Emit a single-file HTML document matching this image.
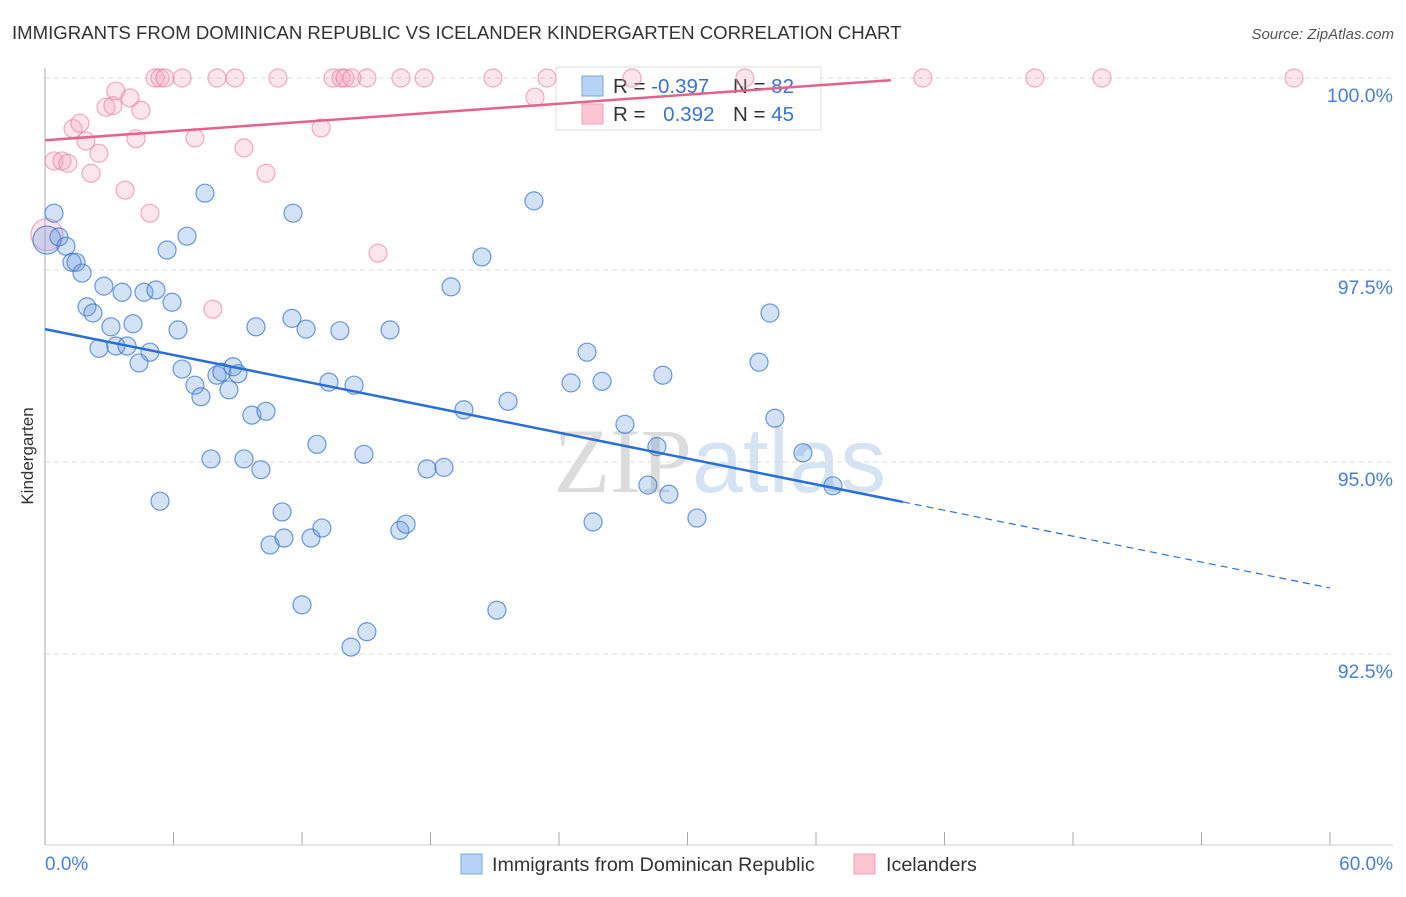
<!DOCTYPE html>
<html><head><meta charset="utf-8">
<style>
body{margin:0;background:#fff;font-family:"Liberation Sans",sans-serif;}
svg text{font-family:"Liberation Sans",sans-serif;}
</style></head>
<body>
<svg id="chart" width="1406" height="892" xmlns="http://www.w3.org/2000/svg">
<text x="12" y="39" font-size="18.6" fill="#333">IMMIGRANTS FROM DOMINICAN REPUBLIC VS ICELANDER KINDERGARTEN CORRELATION CHART</text>
<text x="1394" y="39" font-size="15" fill="#555" text-anchor="end" font-style="italic">Source: ZipAtlas.com</text>
<text x="720" y="492" font-size="92" fill="#e6e6e6" text-anchor="middle"><tspan font-family="Liberation Serif" fill="#dcdcdc">ZIP</tspan><tspan fill="#d5e3f3">atlas</tspan></text>
<g id="grid"></g>
<g id="axes"></g>
<g>
<rect x="556" y="67" width="265" height="63" fill="#fff" fill-opacity="0.85" stroke="#ddd"/>
<rect x="582" y="76" width="21" height="20" fill="#b8d2f5" stroke="#7aa5e0"/>
<rect x="582" y="104" width="21" height="20" fill="#fcc5d4" stroke="#f0a0b8"/>
<text x="613" y="93" font-size="20.5" fill="#333">R = <tspan fill="#3a73d0">-0.397</tspan></text>
<text x="733" y="93" font-size="20.5" fill="#333">N = <tspan fill="#3a73d0">82</tspan></text>
<text x="613" y="121" font-size="20.5" fill="#333">R = <tspan fill="#3a73d0" dx="12">0.392</tspan></text>
<text x="733" y="121" font-size="20.5" fill="#333">N = <tspan fill="#3a73d0">45</tspan></text>
</g>
<g id="marks"></g>
<text transform="translate(33,456) rotate(-90)" font-size="17" fill="#333" text-anchor="middle">Kindergarten</text>
<text x="45" y="870" font-size="19" fill="#4a7fd4">0.0%</text>
<text x="1393" y="870" font-size="19" fill="#4a7fd4" text-anchor="end">60.0%</text>
<g>
<rect x="461" y="854" width="21" height="20" fill="#b8d2f5" stroke="#7aa5e0"/>
<text x="492" y="871" font-size="19.7" fill="#333">Immigrants from Dominican Republic</text>
<rect x="854" y="854" width="21" height="20" fill="#fcc5d4" stroke="#f0a0b8"/>
<text x="886" y="871" font-size="19.7" fill="#333">Icelanders</text>
</g>
</svg>
<script>
const blueX=[0.42,0.09,0.65,0.98,1.26,1.45,1.73,1.96,2.24,2.75,3.08,3.60,4.11,2.52,3.31,3.83,4.90,4.39,4.62,5.18,5.93,6.21,5.70,6.63,7.47,6.40,7.00,7.28,8.03,8.26,8.59,8.78,9.01,7.75,5.37,9.29,9.66,10.32,10.08,9.85,11.58,11.53,12.19,13.77,13.26,14.43,12.70,14.89,16.11,11.07,10.51,11.16,12.42,12.93,12.00,14.29,15.03,16.57,16.86,17.84,18.63,18.96,19.56,20.40,21.62,22.83,24.56,25.31,26.01,25.59,27.08,28.57,28.15,29.13,28.85,30.44,21.10,33.34,33.85,34.08,35.39,36.79];
const blueY=[98.24,97.89,97.93,97.81,97.60,97.60,97.46,97.02,96.94,97.29,96.76,97.21,96.80,96.48,96.51,96.51,96.43,96.29,97.21,97.24,97.08,96.72,97.76,97.94,98.50,96.21,96.00,95.85,96.13,96.17,95.94,96.24,96.15,95.04,94.49,95.04,95.61,95.66,94.90,96.76,98.24,96.87,96.73,96.71,96.04,96.00,95.23,95.10,96.72,94.35,93.92,94.01,94.01,94.14,93.14,92.59,92.79,94.11,94.19,94.91,94.93,97.28,95.68,97.67,95.79,98.40,96.03,96.43,96.05,94.22,95.49,95.20,94.70,94.58,96.13,94.27,93.07,96.30,96.94,95.57,95.12,94.69];
const pinkX=[5.14,5.37,5.60,6.40,8.03,8.87,10.88,13.45,13.82,14.01,14.33,15.03,16.62,17.70,20.92,23.44,27.41,32.68,40.99,46.22,49.35,58.32,0.42,0.79,1.07,1.31,1.63,1.91,2.15,2.52,2.85,3.17,3.31,3.74,3.97,4.25,4.48,4.90,7.00,7.84,9.29,10.32,12.89,15.55,22.88,0.09];
const pinkY=[100,100,100,100,100,100,100,100,100,100,100,100,100,100,100,100,100,100,100,100,100,100,98.92,98.92,98.89,99.34,99.41,99.18,98.76,99.02,99.62,99.64,99.83,98.54,99.74,99.21,99.58,98.24,99.22,96.99,99.09,98.76,99.35,97.72,99.75,97.96];
const yTicks=[100,97.5,95,92.5];
const yTickLabels=["100.0%","97.5%","95.0%","92.5%"];
const xTicks=[0,6,12,18,24,30,36,42,48,54,60];
const blueTrend=[96.73,93.36]; // y at x=0 and x=60
const pinkTrend=[99.19,0.0198]; // intercept, slope

const NS="http://www.w3.org/2000/svg";
function sx(v){return 45+v/60*1285;}
function sy(v){return 78+(100-v)/2.5*192;}
function mk(tag,attrs,parent){const e=document.createElementNS(NS,tag);for(const k in attrs)e.setAttribute(k,attrs[k]);parent.appendChild(e);return e;}
const grid=document.getElementById('grid'),axes=document.getElementById('axes'),marks=document.getElementById('marks');
yTicks.forEach((t,i)=>{
  const l=mk('line',{x1:45,x2:1393,y1:sy(t),y2:sy(t),stroke:'#ddd','stroke-dasharray':'5,4'},grid);
  
  
  const tx=mk('text',{x:1393,y:sy(t)+24,'font-size':19.5,fill:'#4a7fd4','text-anchor':'end'},grid);
  tx.textContent=yTickLabels[i];
  
  
});
const ax=mk('line',{x1:45,x2:45,y1:68,y2:845,stroke:'#aaa'},axes);


const xx=mk('line',{x1:45,x2:1393,y1:845,y2:845,stroke:'#ccc'},axes);


xTicks.forEach(t=>{
  const l=mk('line',{x1:sx(t),x2:sx(t),y1:832,y2:845,stroke:'#aaa'},axes);
  
  
});
function dot(x,y,r,fill,stroke,name){
  const c=mk('circle',{cx:sx(x),cy:sy(y),r:r,fill:fill,stroke:stroke,'stroke-width':1.2},marks);
  
  
}
pinkX.forEach((x,i)=>dot(x,pinkY[i],i===pinkX.length-1?16:9,'rgba(245,160,190,0.28)','rgba(230,120,155,0.6)','icelander-point'));
blueX.forEach((x,i)=>dot(x,blueY[i],i===1?14:9,'rgba(110,160,230,0.3)','rgba(60,120,210,0.75)','dominican-point'));
const bEnd=40.06, bSlope=(blueTrend[1]-blueTrend[0])/60;
const b1=mk('line',{x1:sx(0),y1:sy(blueTrend[0]),x2:sx(bEnd),y2:sy(blueTrend[0]+bSlope*bEnd),stroke:'#2a6fd6','stroke-width':2.5},marks);


const b2=mk('line',{x1:sx(bEnd),y1:sy(blueTrend[0]+bSlope*bEnd),x2:sx(60),y2:sy(blueTrend[1]),stroke:'#2a6fd6','stroke-width':1.2,'stroke-dasharray':'7,5'},marks);


const pEnd=39.5;
const p1=mk('line',{x1:sx(0),y1:sy(pinkTrend[0]),x2:sx(pEnd),y2:sy(pinkTrend[0]+pinkTrend[1]*pEnd),stroke:'#e5628c','stroke-width':2.5},marks);


</script>
</body></html>
